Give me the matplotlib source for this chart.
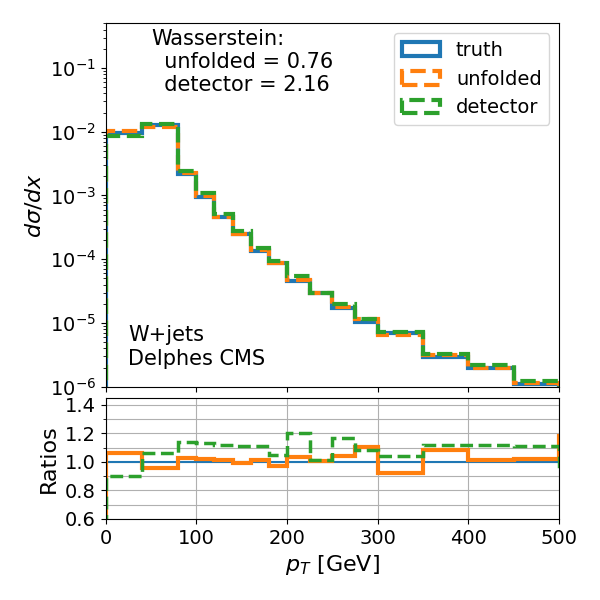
import matplotlib
matplotlib.use("Agg")
import matplotlib.pyplot as plt
import numpy as np

# bin edges in pT [GeV] (last bin lies past the plotted range)
edges = [0, 40, 80, 100, 120, 140, 160, 180, 200, 225, 250, 275, 300, 350, 400, 450, 500, 550]

truth = [9.6e-3, 1.26e-2, 2.15e-3, 9.5e-4, 4.6e-4, 2.47e-4, 1.36e-4, 8.8e-5, 4.5e-5,
         2.92e-5, 1.70e-5, 1.05e-5, 7.05e-6, 2.94e-6, 1.93e-6, 1.11e-6, 8.0e-7]
unfolded = [1.021e-2, 1.203e-2, 2.212e-3, 9.68e-4, 4.655e-4, 2.458e-4, 1.379e-4, 8.57e-5, 4.662e-5,
            2.940e-5, 1.773e-5, 1.162e-5, 6.528e-6, 3.184e-6, 1.953e-6, 1.133e-6, 9.44e-7]
detector = [8.64e-3, 1.341e-2, 2.451e-3, 1.074e-3, 5.147e-4, 2.742e-4, 1.510e-4, 9.22e-5, 5.40e-5,
            2.955e-5, 1.991e-5, 1.137e-5, 7.332e-6, 3.296e-6, 2.156e-6, 1.232e-6, 7.76e-7]

w_unfolded = 0.76
w_detector = 2.16

edges = np.array(edges)
centers = 0.5 * (edges[1:] + edges[:-1])
truth = np.array(truth)
unfolded = np.array(unfolded)
detector = np.array(detector)

fig = plt.figure(figsize=(6, 6), dpi=100)
ax = fig.add_axes([0.176, 0.3555, 0.756, 0.6055])
rax = fig.add_axes([0.176, 0.135, 0.756, 0.202])

ax.hist(centers, bins=edges, weights=truth, histtype='step', lw=3, color='C0', label='truth')
ax.hist(centers, bins=edges, weights=unfolded, histtype='step', lw=3, ls='--', color='C1', label='unfolded')
ax.hist(centers, bins=edges, weights=detector, histtype='step', lw=3, ls='--', color='C2', label='detector')
ax.set_yscale('log')
ax.set_ylim(1e-6, 0.5)
ax.set_xlim(0, 500)
ax.set_xticks([0, 100, 200, 300, 400, 500])
ax.tick_params(labelbottom=False, labelsize=14)
ax.set_ylabel(r'$d\sigma/dx$', fontsize=16)
ax.legend(loc='upper right', fontsize=14)

ax.text(0.10, 0.985, 'Wasserstein:\n  unfolded = %.2f\n  detector = %.2f' % (w_unfolded, w_detector),
        transform=ax.transAxes, fontsize=15, va='top', ha='left')
ax.text(0.05, 0.05, 'W+jets\nDelphes CMS', transform=ax.transAxes, fontsize=15, va='bottom', ha='left')

rax.hist(centers, bins=edges, weights=truth / truth, histtype='step', lw=1.5, color='C0')
rax.hist(centers, bins=edges, weights=unfolded / truth, histtype='step', lw=3, color='C1')
rax.hist(centers, bins=edges, weights=detector / truth, histtype='step', lw=2.5, ls='--', color='C2')
rax.set_xlim(0, 500)
rax.set_ylim(0.6, 1.45)
rax.set_yticks([0.6, 0.8, 1.0, 1.2, 1.4])
rax.set_yticks([0.7, 0.9, 1.1, 1.3], minor=True)
rax.grid(which='major')
rax.grid(which='minor', axis='y')
rax.tick_params(labelsize=14)
rax.set_xlabel(r'$p_T$ [GeV]', fontsize=16)
rax.set_ylabel('Ratios', fontsize=16)

fig.savefig('out.png', dpi=100)
